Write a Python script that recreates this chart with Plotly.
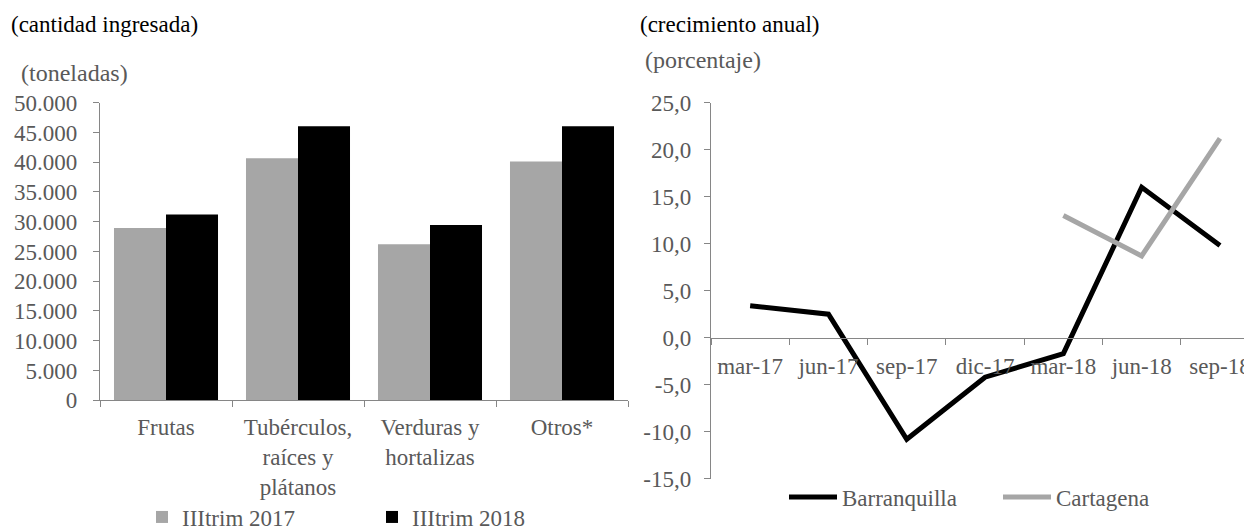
import plotly.graph_objects as go

# ---------------- data ----------------
bar_categories = ["Frutas", "Tubérculos,<br>raíces y<br>plátanos", "Verduras y<br>hortalizas", "Otros*"]
trim_2017 = [28950, 40660, 26200, 40110]
trim_2018 = [31200, 46040, 29450, 46040]
bar_names = ["IIItrim 2017", "IIItrim 2018"]
bar_yticks = [0, 5000, 10000, 15000, 20000, 25000, 30000, 35000, 40000, 45000, 50000]

line_categories = ["mar-17", "jun-17", "sep-17", "dic-17", "mar-18", "jun-18", "sep-18"]
barranquilla = [3.4, 2.5, -10.8, -4.2, -1.7, 16.0, 9.8]
cartagena = [None, None, None, None, 13.0, 8.7, 21.2]
line_yticks = [-15, -10, -5, 0, 5, 10, 15, 20, 25]

# ---------------- layout helpers ----------------
OFF = 8                       # page body margin of the html page
W, H = 1252 - OFF, 526 - OFF  # visible figure size
FONT = "Liberation Serif"
GRAY_TXT = "#595959"
AX = "#868686"
FS = 23

def px_x(x):
    return max(0.0, (x - OFF) / W)

def px_y(y):
    return min(1.0, max(0.0, 1 - (y - OFF) / H))

fmt_thousands = lambda v: f"{v:,.0f}".replace(",", ".")
fmt_dec = lambda v: f"{v:.1f}".replace(".", ",")

fig = go.Figure()

fig.add_trace(go.Bar(x=bar_categories, y=trim_2017, name=bar_names[0],
                     marker=dict(color="#A6A6A6", line=dict(width=0)),
                     xaxis="x", yaxis="y", legend="legend"))
fig.add_trace(go.Bar(x=bar_categories, y=trim_2018, name=bar_names[1],
                     marker=dict(color="#000000", line=dict(width=0)),
                     xaxis="x", yaxis="y", legend="legend"))

fig.add_trace(go.Scatter(x=line_categories, y=barranquilla, name="Barranquilla",
                         mode="lines", line=dict(color="#000000", width=5),
                         xaxis="x2", yaxis="y2", legend="legend2"))
fig.add_trace(go.Scatter(x=line_categories, y=cartagena, name="Cartagena",
                         mode="lines", line=dict(color="#A6A6A6", width=5),
                         connectgaps=False,
                         xaxis="x2", yaxis="y2", legend="legend2"))

y_top = 102.7
y_bot_left = 400.2
y_bot_right = 478.7
y_zero_right = 337.7

common_ax = dict(showgrid=False, zeroline=False, showline=True, linecolor=AX, linewidth=1.3,
                 ticks="outside", tickcolor=AX, tickwidth=1.3, ticklen=6, automargin=False,
                 tickfont=dict(family=FONT, size=FS, color=GRAY_TXT))

fig.update_layout(
    width=W, height=H,
    margin=dict(l=0, r=0, t=0, b=0, pad=0, autoexpand=False),
    paper_bgcolor="white", plot_bgcolor="rgba(0,0,0,0)",
    font=dict(family=FONT, size=FS, color=GRAY_TXT),
    barmode="group", bargap=0.212, bargroupgap=0,
    xaxis=dict(domain=[px_x(100), px_x(628)], anchor="y", type="category",
               range=[-0.5, 3.5], tickson="boundaries", ticklabelstandoff=6,
               **common_ax),
    yaxis=dict(domain=[px_y(y_bot_left), px_y(y_top)], anchor="x", range=[0, 50000],
               tickvals=bar_yticks, ticktext=[fmt_thousands(v) for v in bar_yticks],
               ticklabelstandoff=11, **common_ax),
    xaxis2=dict(domain=[px_x(711), 1.0], anchor="free", position=px_y(y_zero_right),
                type="category", categoryorder="array", categoryarray=line_categories,
                range=[-0.5, 6.409], tickson="boundaries", ticklabelstandoff=8,
                **common_ax),
    yaxis2=dict(domain=[px_y(y_bot_right), px_y(y_top)], anchor="x2", range=[-15, 25],
                tickvals=line_yticks, ticktext=[fmt_dec(v) for v in line_yticks],
                ticklabelstandoff=8, **common_ax),
    legend=dict(orientation="h", x=px_x(142), xanchor="left", y=px_y(517), yanchor="middle",
                bgcolor="rgba(0,0,0,0)", font=dict(family=FONT, size=FS, color=GRAY_TXT),
                entrywidth=185, entrywidthmode="pixels", itemclick=False),
    legend2=dict(orientation="h", x=px_x(784), xanchor="left", y=px_y(497), yanchor="middle",
                 bgcolor="rgba(0,0,0,0)", font=dict(family=FONT, size=FS, color=GRAY_TXT),
                 entrywidth=151, entrywidthmode="pixels", itemwidth=48, itemclick=False),
    showlegend=True,
)

annotations = [
    dict(text="(cantidad ingresada)", x=px_x(9), y=px_y(24), color="#000000", size=23),
    dict(text="(toneladas)", x=px_x(19), y=px_y(73), color=GRAY_TXT, size=24),
    dict(text="(crecimiento anual)", x=px_x(638), y=px_y(24), color="#000000", size=23),
    dict(text="(porcentaje)", x=px_x(643), y=px_y(60), color=GRAY_TXT, size=24),
]
for a in annotations:
    fig.add_annotation(text=a["text"], xref="paper", yref="paper", x=a["x"], y=a["y"],
                       xanchor="left", yanchor="middle", showarrow=False,
                       font=dict(family=FONT, size=a["size"], color=a["color"]))

fig.write_html("out.html")
